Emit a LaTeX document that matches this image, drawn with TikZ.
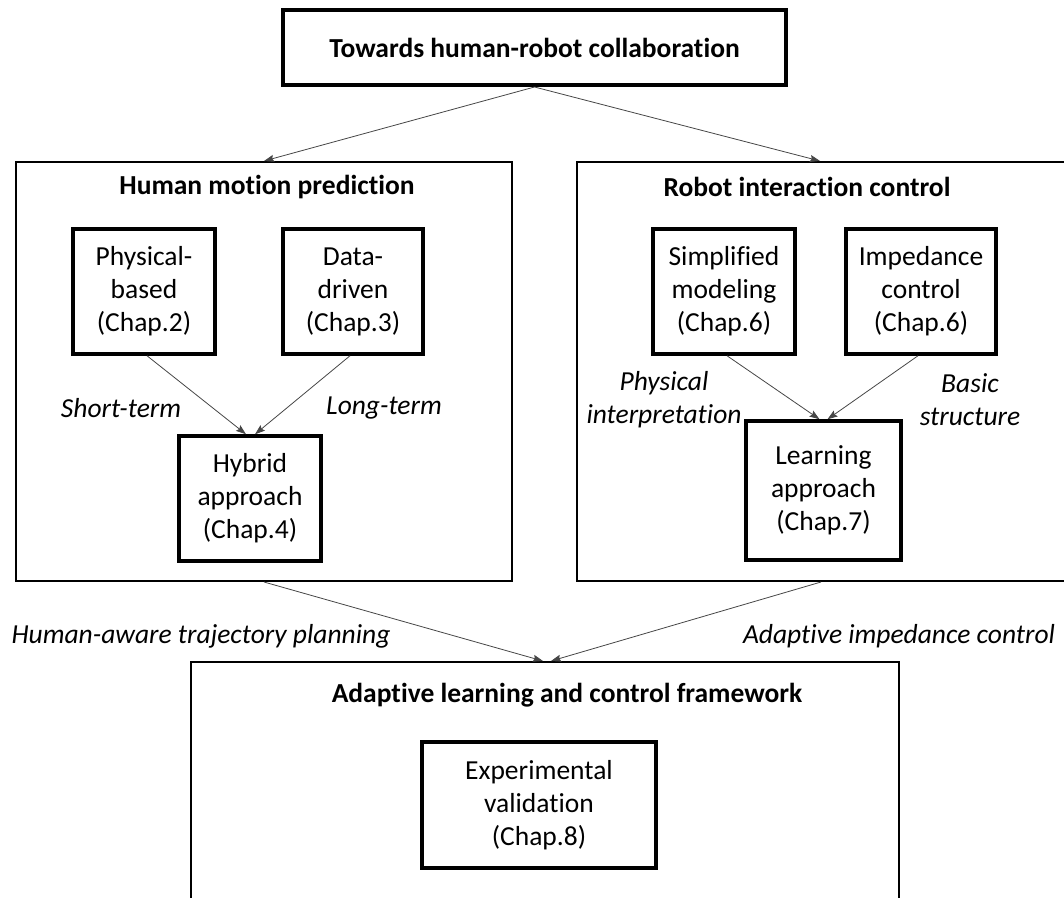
\documentclass[tikz,border=0pt]{standalone}
\usepackage{fontspec}
\setmainfont{Carlito}[Ligatures=NoCommon]
\usetikzlibrary{arrows.meta, positioning}
\definecolor{hrgray}{RGB}{70,70,70}
\newcommand{\hrsize}{\fontsize{27.5pt}{33pt}\selectfont}
\tikzset{
    box/.style={draw, line width=3.5pt, inner sep=0pt, align=center, font=\hrsize,
                minimum width=142pt, minimum height=125pt},
    panel/.style={draw, line width=2pt, inner sep=0pt},
    ttl/.style={font=\hrsize\bfseries, inner sep=0pt},
    lbl/.style={font=\hrsize\itshape, align=center, inner sep=0pt},
    arrow/.style={-{Stealth[length=10pt, width=7pt, inset=1.5pt]}, line width=0.8pt, hrgray},
}

\begin{document}
\begin{tikzpicture}[x=1pt, y=-1pt]
    \useasboundingbox (0,0) rectangle (1064,897);
    \clip (0,0) rectangle (1064,897);
    \node[box, line width=4pt, minimum width=503pt, minimum height=75pt, font=\hrsize\bfseries] (top) at (534.5,47.5) {Towards human-robot collaboration};
    % human side
    \node[panel, minimum width=496pt, minimum height=419pt] (hmp) at (264,371.5) {};
    \node[ttl] (hmpt) at (267,187) {Human motion prediction};
    \node[box] (phys) at (144,291.5) {Physical-\\based\\(Chap.2)};
    \node[box, minimum width=140pt] (data) at (353,291.5) {Data-\\driven\\(Chap.3)};
    \node[box] (hyb) at (250,498.5) {Hybrid\\approach\\(Chap.4)};
    \node[lbl] (short) at (121,408) {Short-term};
    \node[lbl] (long) at (384,408) {Long-term};
    % robot side
    \node[panel, minimum width=498pt, minimum height=419pt] (ric) at (826,371.5) {};
    \node[ttl] (rict) at (807,187) {Robot interaction control};
    \node[box] (simp) at (724,291.5) {Simplified\\modeling\\(Chap.6)};
    \node[box, minimum width=150pt] (imp) at (921,291.5) {Impedance\\control\\(Chap.6)};
    \node[box, minimum width=155pt, minimum height=139pt] (learn) at (823.5,490.5) {Learning\\approach\\(Chap.7)};
    \node[lbl] (interp) at (664,400) {Physical\\interpretation};
    \node[lbl] (basic) at (970,400) {Basic\\structure};
    % framework
    \node[panel, minimum width=708pt, minimum height=300pt] (alc) at (545,812) {};
    \node[ttl] (alct) at (567,695) {Adaptive learning and control framework};
    \node[box, minimum width=234pt, minimum height=126pt] (exp) at (539,805) {Experimental\\validation\\(Chap.8)};
    \node[lbl] (traj) at (201,636) {Human-aware trajectory planning};
    \node[lbl] (adimp) at (899,636) {Adaptive impedance control};

    \draw[arrow] (top.south) -- (hmp.north);
    \draw[arrow] (top.south) -- ([xshift=-6pt]ric.north);
    \draw[arrow] ([xshift=3pt]phys.south) -- ([xshift=-4pt]hyb.north);
    \draw[arrow] ([xshift=-3pt]data.south) -- ([xshift=5pt]hyb.north);
    \draw[arrow] ([xshift=3pt]simp.south) -- ([xshift=-4pt]learn.north);
    \draw[arrow] ([xshift=-3pt]imp.south) -- ([xshift=4pt]learn.north);
    \draw[arrow] (hmp.south) -- ([xshift=-2pt]alc.north);
    \draw[arrow] ([xshift=-5pt]ric.south) -- ([xshift=6pt]alc.north);
\end{tikzpicture}
\end{document}
